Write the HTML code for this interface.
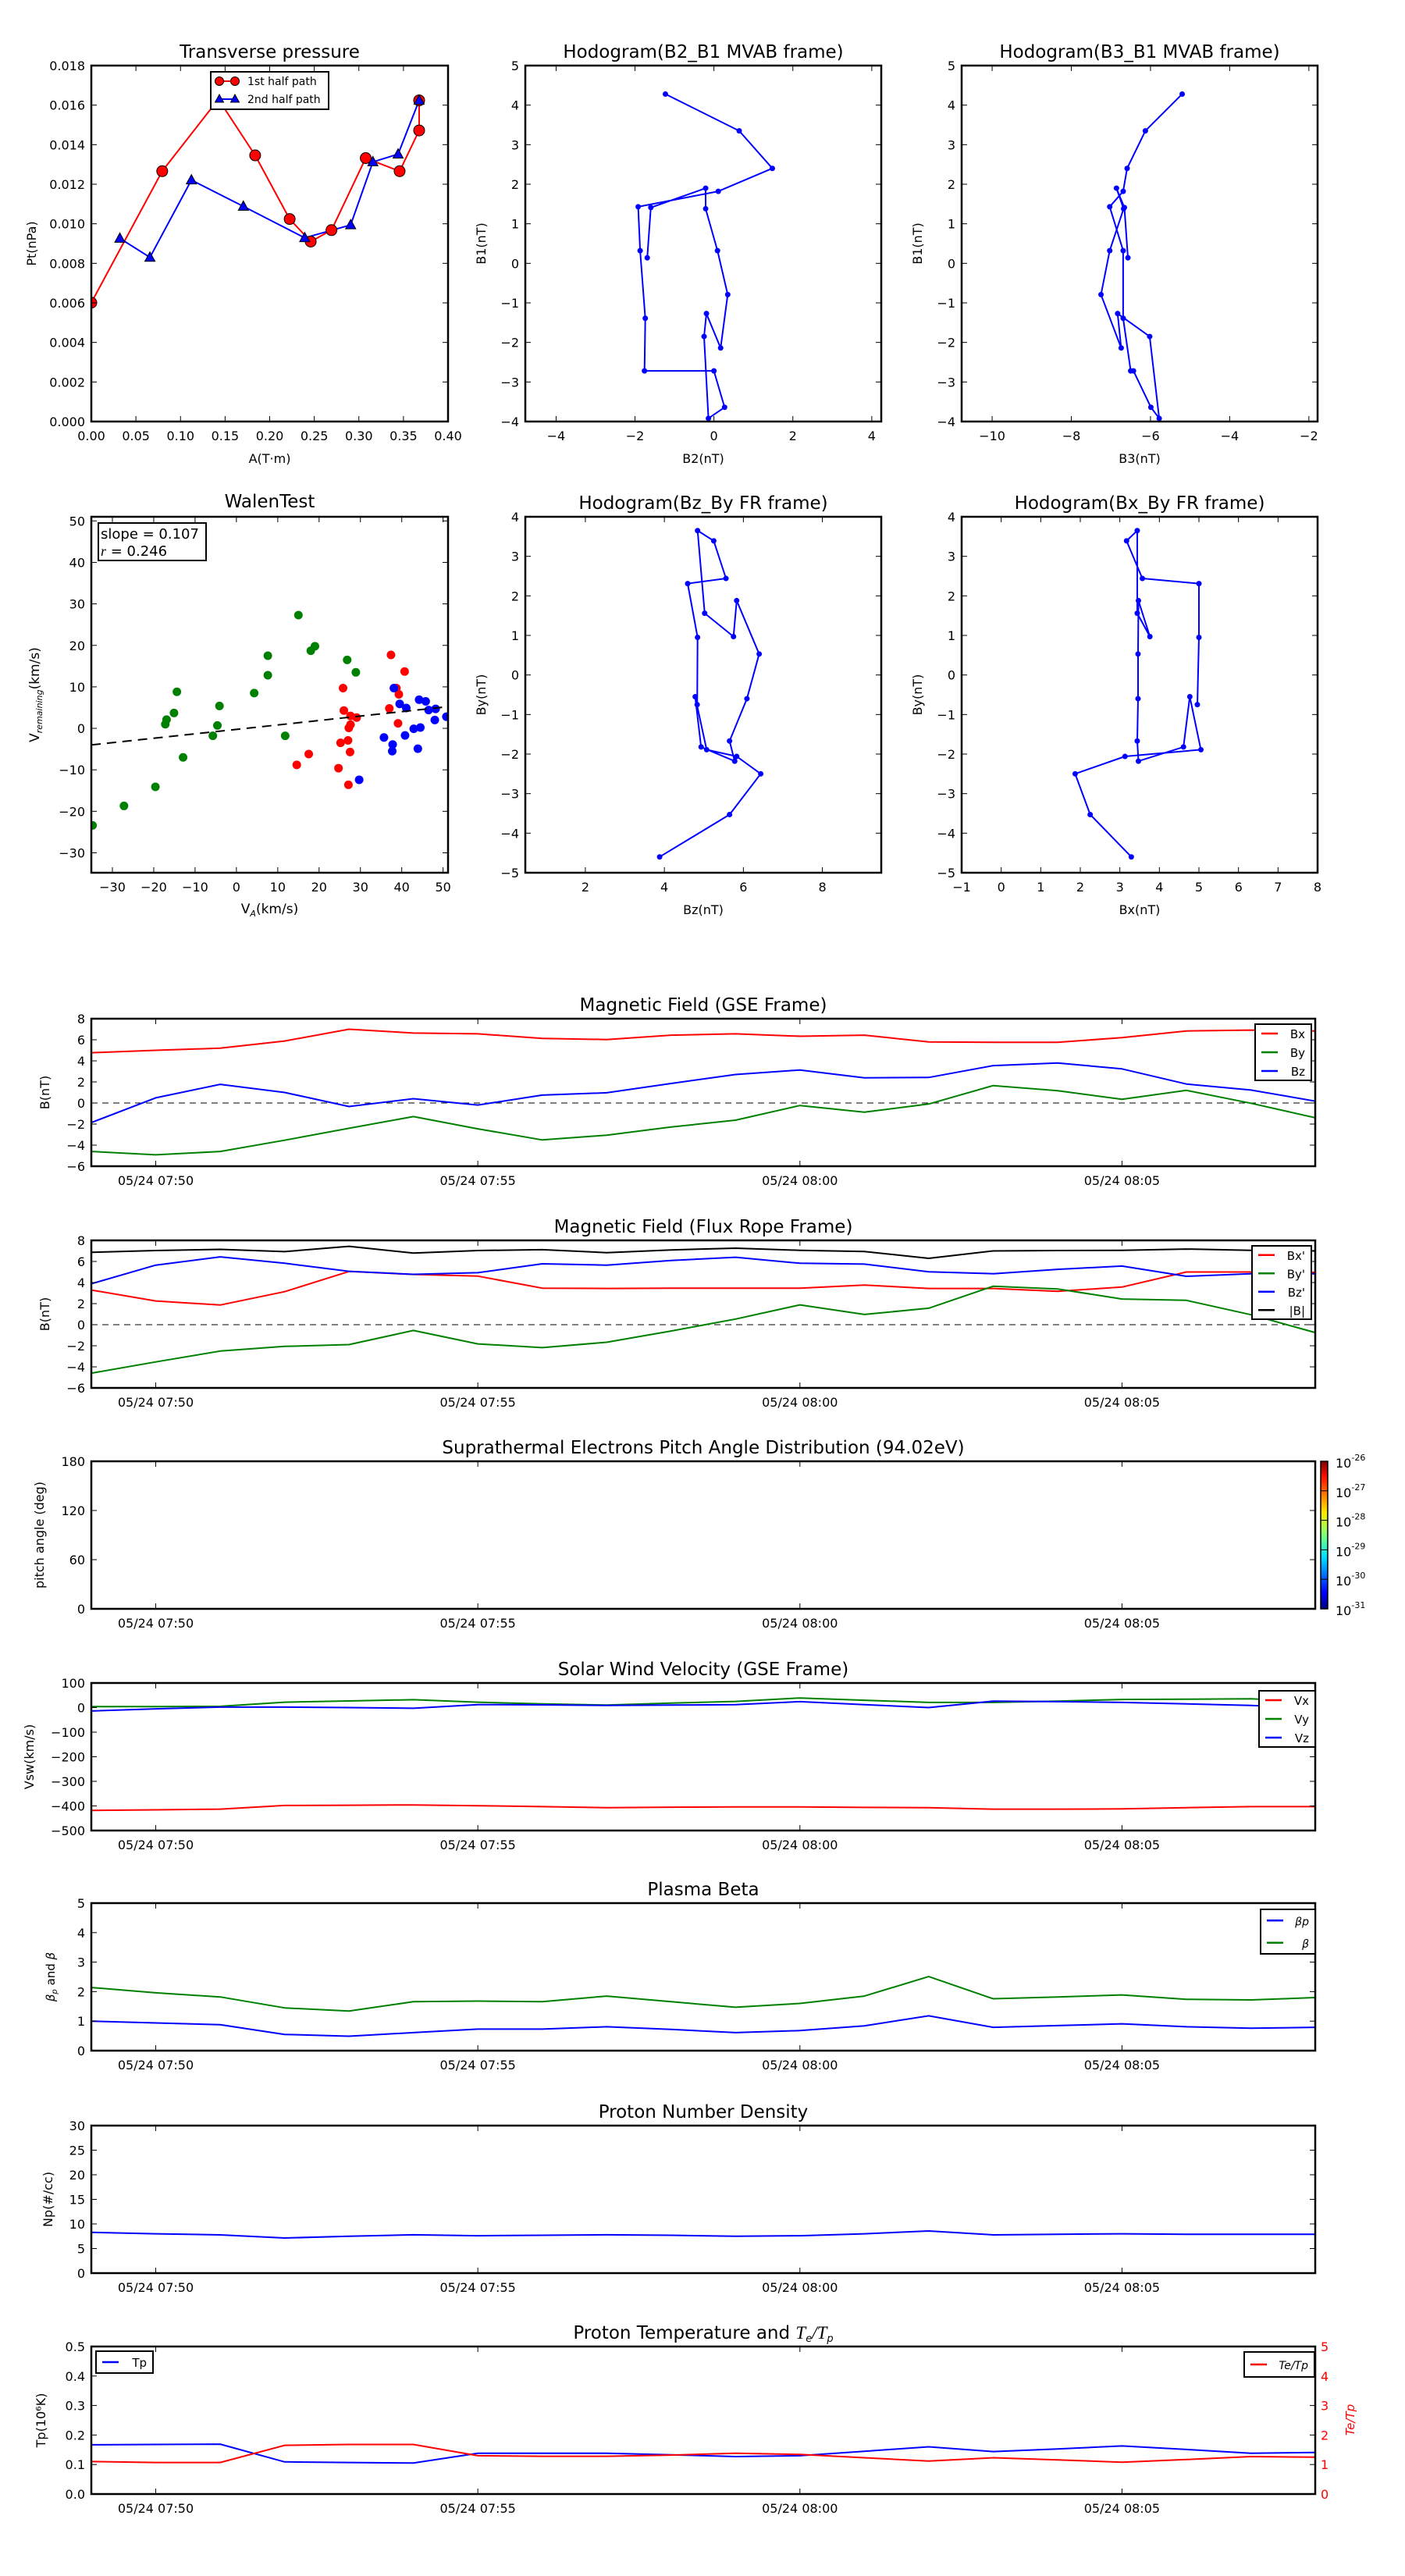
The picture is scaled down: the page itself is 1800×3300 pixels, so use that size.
<!DOCTYPE html>
<html><head><meta charset="utf-8"><style>
html,body{margin:0;padding:0;background:#fff;}
svg{display:block;font-family:"DejaVu Sans","Liberation Sans",sans-serif;}
</style></head><body>
<svg id="chart" xmlns="http://www.w3.org/2000/svg" width="1800" height="3300" viewBox="0 0 1800 3300">
<rect x="0" y="0" width="1800" height="3300" fill="#fff"/>
<defs>
<linearGradient id="jet" x1="0" y1="1" x2="0" y2="0">
<stop offset="0" stop-color="#00007f"/><stop offset="0.11" stop-color="#0000ff"/><stop offset="0.35" stop-color="#00e0ff"/><stop offset="0.5" stop-color="#7dff7a"/><stop offset="0.65" stop-color="#ffea00"/><stop offset="0.89" stop-color="#ff1400"/><stop offset="1" stop-color="#7f0000"/>
</linearGradient>
</defs>
</svg>
<script>
// ---------- data ----------
const ptRedA=[0,0.0795,0.1425,0.1837,0.2224,0.246,0.2693,0.3077,0.3457,0.3676,0.3676];
const ptRedP=[0.00601,0.01266,0.0163,0.01346,0.01024,0.0091,0.00968,0.01332,0.01266,0.01472,0.01624];
const ptBlueA=[0.032,0.0657,0.1122,0.1705,0.2393,0.2908,0.3157,0.344,0.3676];
const ptBlueP=[0.00926,0.0083,0.01221,0.01088,0.00929,0.00994,0.01313,0.01352,0.01624];
const mvB1=[4.28,3.35,2.4,1.82,1.43,0.32,-1.39,-2.72,-2.72,-3.64,-3.92,-1.85,-1.27,-2.14,-0.79,0.32,1.38,1.9,1.41,0.14];
const mvB2=[-1.23,0.64,1.48,0.11,-1.92,-1.87,-1.74,-1.76,0.0,0.27,-0.14,-0.25,-0.19,0.17,0.35,0.09,-0.21,-0.21,-1.6,-1.69];
const mvB3=[-5.2,-6.13,-6.59,-6.69,-7.03,-6.69,-6.69,-6.5,-6.43,-5.99,-5.78,-6.02,-6.83,-6.74,-7.25,-7.03,-6.68,-6.86,-6.66,-6.57];
const walenGreenX=[-34.8,-27.2,-19.6,-17.2,-16.9,-15.1,-14.4,-12.9,-5.7,-4.6,-4.1,4.3,7.6,7.6,11.8,15.0,18.0,19.0,26.8,28.9];
const walenGreenY=[-23.4,-18.7,-14.1,1.0,2.1,3.7,8.8,-7.0,-1.8,0.7,5.4,8.5,12.8,17.5,-1.8,27.3,18.7,19.8,16.5,13.5];
const walenRedX=[37.4,40.7,25.8,38.7,39.3,26.0,37.0,27.6,29.1,27.6,27.2,39.1,25.2,27.0,27.5,17.5,14.6,24.7,27.1];
const walenRedY=[17.7,13.7,9.7,9.7,8.2,4.3,4.8,3.0,2.6,0.9,0.1,1.2,-3.5,-2.9,-5.7,-6.2,-8.8,-9.6,-13.6];
const walenBlueX=[38.1,44.2,45.8,39.5,41.1,46.5,48.2,50.8,48.0,42.9,44.5,35.7,37.8,37.7,40.8,43.9,29.7];
const walenBlueY=[9.7,6.9,6.5,5.9,4.9,4.4,4.7,2.8,2.0,-0.1,0.2,-2.2,-3.9,-5.5,-1.7,-4.9,-12.4];
const walenSlope=0.107, walenIntercept=-0.25;
const minutes=[0,1,2,3,4,5,6,7,8,9,10,11,12,13,14,15,16,17,18,19];
const tickMinutes=[1,6,11,16];
const tickTimeLabels=['05/24 07:50','05/24 07:55','05/24 08:00','05/24 08:05'];
const gseBx=[4.77,5.0,5.2,5.88,7.0,6.64,6.56,6.13,6.02,6.44,6.56,6.33,6.44,5.8,5.76,5.76,6.2,6.84,6.92,6.84];
const gseBy=[-4.6,-4.92,-4.6,-3.53,-2.4,-1.29,-2.45,-3.5,-3.05,-2.28,-1.63,-0.24,-0.87,-0.1,1.65,1.17,0.35,1.2,-0.02,-1.4];
const gseBz=[-1.86,0.49,1.77,1.0,-0.33,0.41,-0.19,0.75,0.97,1.85,2.7,3.13,2.39,2.42,3.55,3.8,3.24,1.8,1.23,0.18];
const frBx=[3.29,2.25,1.87,3.13,5.05,4.77,4.61,3.47,3.44,3.46,3.46,3.47,3.76,3.44,3.44,3.17,3.57,5.0,5.0,4.96];
const frBy=[-4.6,-3.53,-2.5,-2.06,-1.89,-0.55,-1.82,-2.18,-1.67,-0.6,0.53,1.88,0.97,1.56,3.65,3.39,2.44,2.31,0.95,-0.75];
const frBz=[3.88,5.65,6.44,5.83,5.07,4.78,4.93,5.78,5.65,6.09,6.4,5.83,5.75,5.02,4.84,5.25,5.56,4.59,4.84,4.83];
const frBt=[6.87,7.04,7.15,6.93,7.44,6.79,7.04,7.12,6.84,7.1,7.26,7.06,6.95,6.3,7.0,7.04,7.06,7.18,7.06,7.0];
const vx=[-418,-416,-413,-398,-397,-396,-399,-403,-407,-405,-404,-404,-406,-407,-413,-413,-412,-407,-403,-403];
const vy=[4,4,5,22,27,32,22,15,10,18,25,39,30,21,21,26,33,34,36,23];
const vz=[-14,-5,2,2,0,-3,12,11,9,10,12,24,12,0,26,24,21,15,9,-3];
const betaP=[1.0,0.94,0.88,0.55,0.49,0.61,0.73,0.73,0.81,0.72,0.61,0.68,0.84,1.18,0.79,0.85,0.91,0.81,0.76,0.79];
const betaAll=[2.14,1.96,1.82,1.45,1.34,1.66,1.68,1.66,1.85,1.66,1.47,1.6,1.85,2.51,1.76,1.82,1.89,1.74,1.72,1.8];
const density=[8.28,8.0,7.77,7.14,7.5,7.8,7.6,7.7,7.8,7.7,7.5,7.6,8.0,8.57,7.77,7.9,8.0,7.9,7.9,7.9];
const tempP=[0.167,0.168,0.169,0.109,0.107,0.105,0.138,0.138,0.138,0.133,0.127,0.13,0.145,0.16,0.144,0.153,0.163,0.151,0.138,0.141];
const teTp=[1.1,1.07,1.07,1.65,1.68,1.68,1.3,1.28,1.28,1.32,1.38,1.34,1.23,1.12,1.23,1.16,1.08,1.17,1.27,1.25];
const cbarExps=['-26','-27','-28','-29','-30','-31'];

// ---------- helpers ----------
const NS='http://www.w3.org/2000/svg';
const svg=document.getElementById('chart');
let clipId=0;
function el(tag,attrs,parent){const e=document.createElementNS(NS,tag);for(const k in attrs)e.setAttribute(k,attrs[k]);(parent||svg).appendChild(e);return e;}
function txt(parent,x,y,s,size,anchor,extra){const t=el('text',Object.assign({x:x,y:y,'font-size':size,'text-anchor':anchor||'middle',fill:'#000'},extra||{}),parent);t.textContent=s;return t;}
function fmt(v,d){const s=v.toFixed(d);return s.replace('-','\u2212');}
function panel(name,box,xd,yd){
  const [x0,y0,x1,y1]=box;
  const g=el('g',{});
  
  
  const id='clip'+(clipId++);
  const cp=el('clipPath',{id:id},g);el('rect',{x:x0,y:y0,width:x1-x0,height:y1-y0},cp);
  const data=el('g',{'clip-path':'url(#'+id+')'},g);
  return {g,data,box,sx:v=>x0+(v-xd[0])/(xd[1]-xd[0])*(x1-x0),sy:v=>y1-(v-yd[0])/(yd[1]-yd[0])*(y1-y0)};
}
function frame(p,xt,xl,yt,yl,o){
  o=o||{};
  const [x0,y0,x1,y1]=p.box;const g=p.g;const L=7;const fs=o.fs||16;
  xt.forEach((v,i)=>{const x=p.sx(v);
    el('line',{x1:x,y1:y1,x2:x,y2:y1-L,stroke:'#000','stroke-width':1},g);
    el('line',{x1:x,y1:y0,x2:x,y2:y0+L,stroke:'#000','stroke-width':1},g);
    const t=txt(g,x,y1+(o.xlo||23),xl[i],fs,'middle');
    
    });
  yt.forEach((v,i)=>{const y=p.sy(v);
    el('line',{x1:x0,y1:y,x2:x0+L,y2:y,stroke:'#000','stroke-width':1},g);
    if(!o.noRightTicks)el('line',{x1:x1,y1:y,x2:x1-L,y2:y,stroke:'#000','stroke-width':1},g);
    const t=txt(g,x0-8,y+6,yl[i],fs,'end');
    
    });
  const r=el('rect',{x:x0,y:y0,width:x1-x0,height:y1-y0,fill:'none',stroke:'#000','stroke-width':2.5},g);
  
  
}
function line(p,xs,ys,color,name,w){const pts=xs.map((x,i)=>p.sx(x).toFixed(1)+','+p.sy(ys[i]).toFixed(1)).join(' ');
  const l=el('polyline',{points:pts,fill:'none',stroke:color,'stroke-width':w||2,'stroke-linejoin':'round'},p.data);
  
  return l;}
function dots(p,xs,ys,color,r,name,stroke){xs.forEach((x,i)=>{const c=el('circle',{cx:p.sx(x),cy:p.sy(ys[i]),r:r,fill:color,stroke:stroke||'none','stroke-width':1},p.data);
  
  });}
function tris(p,xs,ys,color,name){xs.forEach((x,i)=>{const cx=p.sx(x),cy=p.sy(ys[i]);
  const t=el('polygon',{points:`${cx},${cy-7} ${cx-6.5},${cy+5} ${cx+6.5},${cy+5}`,fill:color,stroke:'#000','stroke-width':1},p.data);
  
  });}
function range(a,b,s){const r=[];for(let v=a;v<=b+1e-9;v+=s)r.push(+v.toFixed(6));return r;}
function title(p,s,y,size){const [x0,,x1]=p.box;const t=txt(p.g,(x0+x1)/2,y,s,size||23,'middle');
  
  return t;}
function ylabel(p,s,x,size){const [,y0,,y1]=p.box;const cy=(y0+y1)/2;const t=txt(p.g,x,cy,s,size||16,'middle',{transform:`rotate(-90 ${x} ${cy})`});
  
  return t;}
function xlabel(p,s,y,size){const [x0,,x1]=p.box;const t=txt(p.g,(x0+x1)/2,y,s,size||16,'middle');
  
  return t;}
function legendBox(p,x,y,w,h,items,fs){const g=el('g',{},p.g);
  
  
  el('rect',{x:x,y:y,width:w,height:h,fill:'#fff',stroke:'#000','stroke-width':2},g);
  const step=h/items.length;
  items.forEach((it,i)=>{const cy=y+step*(i+0.5);
    const e=el('g',{},g);
    
    
    el('line',{x1:x+8,y1:cy,x2:x+29,y2:cy,stroke:it.c,'stroke-width':2.5},e);
    const t=txt(e,x+w-8,cy+6,it.t,fs||15,'end');
    if(it.italic)t.setAttribute('font-style','italic');});
  return g;}

// ---------- Panel 1: transverse pressure ----------
{const p=panel('transverse-pressure-chart',[117,84,574,540],[0,0.4],[0,0.018]);
 line(p,ptRedA,ptRedP,'#ff0000','first-half-path-line');
 line(p,ptBlueA,ptBlueP,'#0000ff','second-half-path-line');
 dots(p,ptRedA,ptRedP,'#ff0000',7,'first-half-point','#000');
 tris(p,ptBlueA,ptBlueP,'#0000ff','second-half-point');
 const xt=range(0,0.4,0.05),yt=range(0,0.018,0.002);
 frame(p,xt,xt.map(v=>v.toFixed(2)),yt,yt.map(v=>v.toFixed(3)),{xlo:24});
 title(p,'Transverse pressure',74,23);
 ylabel(p,'Pt(nPa)',46,16);xlabel(p,'A(T\u00b7m)',593,16);
 const lg=el('g',{},p.g);
 
 
 el('rect',{x:270,y:92,width:151,height:48,fill:'#fff',stroke:'#000','stroke-width':2},lg);
 el('line',{x1:281,y1:104,x2:301,y2:104,stroke:'#ff0000','stroke-width':2},lg);
 el('circle',{cx:281,cy:104,r:5.5,fill:'#ff0000',stroke:'#000'},lg);el('circle',{cx:301,cy:104,r:5.5,fill:'#ff0000',stroke:'#000'},lg);
 txt(lg,317,109,'1st half path',14,'start');
 el('line',{x1:281,y1:127,x2:301,y2:127,stroke:'#0000ff','stroke-width':2},lg);
 el('polygon',{points:'281,121 275.5,131 286.5,131',fill:'#0000ff',stroke:'#000'},lg);el('polygon',{points:'301,121 295.5,131 306.5,131',fill:'#0000ff',stroke:'#000'},lg);
 txt(lg,317,132,'2nd half path',14,'start');}

// ---------- Hodograms ----------
function hodo(name,box,xd,yd,xs,ys,xt,yt,ttl,xlab,ylab,ylx){
 const p=panel(name,box,xd,yd);
 line(p,xs,ys,'#0000ff','hodogram-line');
 dots(p,xs,ys,'#0000ff',3.5,'hodogram-point');
 frame(p,xt,xt.map(v=>fmt(v,0)),yt,yt.map(v=>fmt(v,0)),{xlo:24});
 title(p,ttl,box[1]-10,23);ylabel(p,ylab,ylx,16);xlabel(p,xlab,box[3]+53,16);return p;}
hodo('hodogram-b2-b1',[673,84,1129,540],[-4.78,4.24],[-4,5],mvB2,mvB1,[-4,-2,0,2,4],range(-4,5,1),'Hodogram(B2_B1 MVAB frame)','B2(nT)','B1(nT)',622);
hodo('hodogram-b3-b1',[1232,84,1688,540],[-10.77,-1.78],[-4,5],mvB3,mvB1,[-10,-8,-6,-4,-2],range(-4,5,1),'Hodogram(B3_B1 MVAB frame)','B3(nT)','B1(nT)',1181);
hodo('hodogram-bz-by-fr',[673,662,1129,1118],[0.48,9.49],[-5,4],frBz,frBy,[2,4,6,8],range(-5,4,1),'Hodogram(Bz_By FR frame)','Bz(nT)','By(nT)',622);
hodo('hodogram-bx-by-fr',[1232,662,1688,1118],[-1,8],[-5,4],frBx,frBy,range(-1,8,1),range(-5,4,1),'Hodogram(Bx_By FR frame)','Bx(nT)','By(nT)',1181);

// ---------- Walen test ----------
{const p=panel('walen-test-chart',[117,662,574,1118],[-35.1,51.2],[-34.8,51]);
 dots(p,walenGreenX,walenGreenY,'#008000',5.5,'walen-green-point');
 dots(p,walenRedX,walenRedY,'#ff0000',5.5,'walen-red-point');
 dots(p,walenBlueX,walenBlueY,'#0000ff',5.5,'walen-blue-point');
 const fx=[-35.1,51.2];const fl=line(p,fx,fx.map(v=>walenSlope*v+walenIntercept),'#000','fit-line');fl.setAttribute('stroke-dasharray','12,8');
 const t=range(-30,50,10);
 frame(p,t,t.map(v=>fmt(v,0)),t,t.map(v=>fmt(v,0)),{xlo:24});
 title(p,'WalenTest',650,23);
 const yl=ylabel(p,'',50,17);yl.textContent='';
 const a=el('tspan',{},yl);a.textContent='V';const b=el('tspan',{'font-size':11,'font-style':'italic',dy:4});yl.appendChild(b);b.textContent='remaining';const c=el('tspan',{dy:-4});yl.appendChild(c);c.textContent='(km/s)';
 const xl=xlabel(p,'',1170,17);const d=el('tspan',{},xl);d.textContent='V';const e=el('tspan',{'font-size':11,'font-style':'italic',dy:4});xl.appendChild(e);e.textContent='A';const f=el('tspan',{dy:-4});xl.appendChild(f);f.textContent='(km/s)';
 const box=el('g',{},p.g);
 
 
 el('rect',{x:126,y:670,width:138,height:48,fill:'#fff',stroke:'#000','stroke-width':2},box);
 txt(box,129,690,'slope = 0.107',18,'start');
 const r=txt(box,129,712,'',18,'start');const ri=el('tspan',{'font-style':'italic','font-family':'Liberation Serif, serif'},r);ri.textContent='r';const rr=el('tspan',{});r.appendChild(rr);rr.textContent=' = 0.246';}

// ---------- time series ----------
const TSX=[117,1685];
function ts(name,y0,yd,yt,ylabels,ttl,ylab,ylx,opts){
 opts=opts||{};
 const p=panel(name,[TSX[0],y0,TSX[1],y0+189],[0,19],yd);
 if(opts.zero){const z=el('line',{x1:TSX[0],x2:TSX[1],y1:p.sy(0),y2:p.sy(0),stroke:'#000','stroke-width':1,'stroke-dasharray':'8,6'},p.data);
   
   }
 return p;}
function tsFinish(p,yt,yl,ttl,ylab,ylx,opts){
 frame(p,tickMinutes,tickTimeLabels,yt,yl,Object.assign({xlo:24},opts||{}));
 title(p,ttl,p.box[1]-10,23);
 if(ylab)ylabel(p,ylab,ylx,16);}

// GSE
{const yt=range(-6,8,2);const p=ts('magnetic-field-gse-chart',1305,[-6,8],yt,null,null,null,null,{zero:true});
 line(p,minutes,gseBx,'#ff0000','bx-line');line(p,minutes,gseBy,'#008000','by-line');line(p,minutes,gseBz,'#0000ff','bz-line');
 tsFinish(p,yt,yt.map(v=>fmt(v,0)),'Magnetic Field (GSE Frame)','B(nT)',63);
 legendBox(p,1608,1312,72,72,[{t:'Bx',c:'#ff0000'},{t:'By',c:'#008000'},{t:'Bz',c:'#0000ff'}],15);}
// FR
{const yt=range(-6,8,2);const p=ts('magnetic-field-fr-chart',1589,[-6,8],yt,null,null,null,null,{zero:true});
 line(p,minutes,frBx,'#ff0000','bx-prime-line');line(p,minutes,frBy,'#008000','by-prime-line');line(p,minutes,frBz,'#0000ff','bz-prime-line');line(p,minutes,frBt,'#000000','btotal-line');
 tsFinish(p,yt,yt.map(v=>fmt(v,0)),'Magnetic Field (Flux Rope Frame)','B(nT)',63);
 legendBox(p,1604,1596,76,94,[{t:"Bx'",c:'#ff0000'},{t:"By'",c:'#008000'},{t:"Bz'",c:'#0000ff'},{t:'|B|',c:'#000'}],15);}
// Suprathermal
{const yt=[0,60,120,180];const p=ts('pitch-angle-chart',1872,[0,180],yt);
 tsFinish(p,yt,yt.map(v=>String(v)),'Suprathermal Electrons Pitch Angle Distribution (94.02eV)','pitch angle (deg)',56);
 const cb=el('g',{});
 
 
 el('rect',{x:1692,y:1872,width:9,height:189,fill:'url(#jet)',stroke:'#000','stroke-width':1.5},cb);
 cbarExps.forEach((e,i)=>{const y=1872+i*189/(cbarExps.length-1);
   el('line',{x1:1692,x2:1701,y1:y,y2:y,stroke:'#000','stroke-width':1},cb);
   const t=txt(cb,1711,y+8,'10',16,'start');
   
   
   const s=el('tspan',{'font-size':11,dy:-9});t.appendChild(s);s.textContent=e;});}
// Velocity
{const yt=range(-500,100,100);const p=ts('solar-wind-velocity-chart',2156,[-500,100],yt);
 line(p,minutes,vx,'#ff0000','vx-line');line(p,minutes,vy,'#008000','vy-line');line(p,minutes,vz,'#0000ff','vz-line');
 tsFinish(p,yt,yt.map(v=>fmt(v,0)),'Solar Wind Velocity (GSE Frame)','Vsw(km/s)',43);
 legendBox(p,1613,2166,72,72,[{t:'Vx',c:'#ff0000'},{t:'Vy',c:'#008000'},{t:'Vz',c:'#0000ff'}],15);}
// Beta
{const yt=range(0,5,1);const p=ts('plasma-beta-chart',2438,[0,5],yt);
 line(p,minutes,betaP,'#0000ff','beta-p-line');line(p,minutes,betaAll,'#008000','beta-line');
 tsFinish(p,yt,yt.map(v=>String(v)),'Plasma Beta','',72);
 const yl=ylabel(p,'',70,15);const a=el('tspan',{'font-style':'italic'},yl);a.textContent='\u03b2';const b=el('tspan',{'font-size':10,'font-style':'italic',dy:3},yl);b.textContent='p';const c=el('tspan',{dy:-3},yl);c.textContent=' and ';const d=el('tspan',{'font-style':'italic'},yl);d.textContent='\u03b2';
 legendBox(p,1615,2446,70,57,[{t:'\u03b2p',c:'#0000ff',italic:true},{t:'\u03b2',c:'#008000',italic:true}],14);}
// Density
{const yt=range(0,30,5);const p=ts('proton-density-chart',2723,[0,30],yt);
 line(p,minutes,density,'#0000ff','density-line');
 tsFinish(p,yt,yt.map(v=>String(v)),'Proton Number Density','Np(#/cc)',67);}
// Temperature
{const yt=range(0,0.5,0.1);const p=ts('proton-temperature-chart',3006,[0,0.5],yt);
 line(p,minutes,tempP,'#0000ff','tp-line');
 const sy2=v=>3195-v/5*189;
 const pts=minutes.map((m,i)=>p.sx(m).toFixed(1)+','+sy2(teTp[i]).toFixed(1)).join(' ');
 const l2=el('polyline',{points:pts,fill:'none',stroke:'#ff0000','stroke-width':2},p.data);
 
 
 tsFinish(p,yt,yt.map(v=>v.toFixed(1)),'','Tp(10\u2076K)',58,{noRightTicks:true});
 const tt=txt(p.g,901,2996,'Proton Temperature and ',23,'middle');
 
 
 const ti=el('tspan',{'font-style':'italic','font-family':'Liberation Serif, serif'},tt);ti.textContent='T';const ts1=el('tspan',{'font-size':13,'font-style':'italic',dy:4},tt);ts1.textContent='e';const ts2=el('tspan',{'font-style':'italic','font-family':'Liberation Serif, serif',dy:-4},tt);ts2.textContent='/T';const ts3=el('tspan',{'font-size':13,'font-style':'italic',dy:4},tt);ts3.textContent='p';
 [0,1,2,3,4,5].forEach(v=>{const y=sy2(v);el('line',{x1:1685,x2:1678,y1:y,y2:y,stroke:'#000'},p.g);
   const t=txt(p.g,1692,y+6,String(v),16,'start',{fill:'#ff0000'});
   
   });
 const rl=txt(p.g,1735,3100,'Te/Tp',15,'middle',{fill:'#ff0000','font-style':'italic',transform:'rotate(-90 1735 3100)'});
 
 
 legendBox(p,123,3012,73,28,[{t:'Tp',c:'#0000ff'}],15);
 legendBox(p,1594,3013,90,32,[{t:'Te/Tp',c:'#ff0000',italic:true}],14);}
</script>
</body></html>
